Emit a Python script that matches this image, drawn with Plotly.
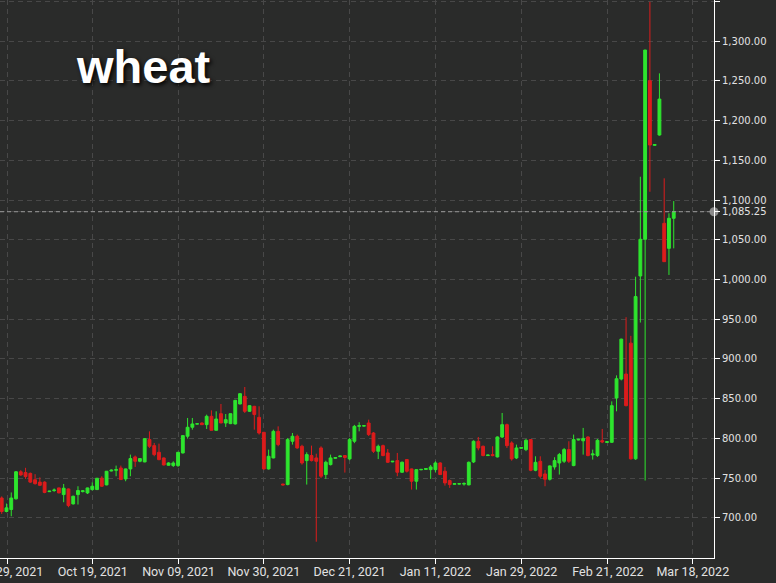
import plotly.graph_objects as go

# ---------------- data ----------------
tick_labels = ["Sep 29, 2021", "Oct 19, 2021", "Nov 09, 2021", "Nov 30, 2021",
               "Dec 21, 2021", "Jan 11, 2022", "Jan 29, 2022", "Feb 21, 2022",
               "Mar 18, 2022"]
# positions of the date ticks on the trading-session index axis
tick_index = [1.2, 19.1, 37.1, 55.0, 73.0, 91.0, 109.1, 127.2, 145.0]

opens = [725, 708, 710.5, 724, 758, 757, 756, 748, 745, 745,
         733, 734.4, 737.7, 729.3, 736.4, 717.6, 729.3, 733.1, 731.4, 735.6,
         735.6, 750, 741.5, 759, 759.9, 762.8, 749, 761.6, 776.7, 771.2,
         770.4, 798.5, 790.9, 782.5, 775.4, 766.2, 765.8, 765.8, 781.7, 802.7,
         814, 818, 819.4, 817.3, 827.8, 810.2, 831.1, 819.4, 818.6, 818.2,
         843.3, 852.9, 834.1, 840.4, 826.5, 807.7, 761.6, 775.4, 808.9, 742.5,
         741.9, 796.4, 802.7, 790.1, 772.1, 778.4, 775.4, 788, 754.5, 767,
         775, 777, 778.4, 774.2, 796.4, 815.2, 815.5, 819.4, 806.8, 783.8,
         790.9, 781.7, 770.5, 772.1, 757.4, 773.3, 761.6, 746.1, 760.5, 761,
         760.7, 760.7, 769.1, 758.7, 746.9, 742.3, 742.5, 742.5, 741.5, 770.4,
         796.4, 790.1, 778.4, 779.6, 776.7, 801.8, 817.3, 794.3, 775.4, 787.5,
         785.9, 798.5, 759.9, 771.2, 755.3, 748.6, 764.1, 769.1, 771.2, 785.9,
         765.8, 798, 797, 801.8, 779.2, 778.4, 797.2, 795, 795.1, 850.8,
         874.7, 881, 919.9, 774.3, 1004.4, 1050.6, 1250.1, 1168.8, 1181.8, 1070.7,
         1039.2, 1077]
highs = [727, 718, 732, 759, 760, 763, 757, 755, 751, 746,
         734, 737, 738, 742.7, 737, 728, 739.8, 735, 738, 744.8,
         750, 752.4, 759, 761, 765.8, 765.8, 762, 779.6, 778.4, 775,
         800, 808.9, 794.3, 793.4, 776, 770, 771.2, 783, 804, 825.7,
         825.7, 818.8, 820, 829.9, 835.3, 834.1, 843.3, 830.7, 831.5, 848.5,
         857, 864.7, 842, 841, 840.4, 808, 785.9, 811, 815.2, 743,
         800.5, 806.8, 804.8, 792, 782.5, 790.9, 780.8, 790.1, 772, 779.6,
         776, 778.2, 779, 800.5, 817, 820.3, 816.5, 823.6, 808, 792.2,
         792.2, 786.7, 771.5, 781.7, 771, 774, 762, 761, 761.5, 762.5,
         766.6, 771.2, 770, 764.1, 748.2, 743.5, 743.5, 744.8, 771, 797.6,
         801.8, 791, 779.5, 790.1, 802.5, 832, 818.6, 796.4, 792.2, 789,
         799.3, 799, 777.5, 777.5, 760.3, 766, 776.3, 781.7, 788, 796.4,
         804.8, 799.5, 813.2, 802.7, 785.9, 799.3, 811.9, 796.2, 846.6, 879.3,
         925.5, 952.5, 929.1, 1003.5, 1129.3, 1289, 1349.4, 1170.2, 1259.4, 1127.3,
         1083.3, 1098.7]
lows = [705, 707, 702, 723, 753, 749, 744, 742, 740, 731,
        732.5, 732.7, 731, 719.7, 713.4, 716.8, 716.8, 732, 730, 734.4,
        735, 739, 741, 758.5, 752.4, 748.2, 746.1, 752.4, 764.1, 770,
        770, 788, 777.5, 772.5, 766, 765.8, 764.1, 764.1, 781, 799.7,
        811, 817.6, 817, 811.9, 810.2, 810, 819.4, 814.4, 818, 817.5,
        843, 832, 833.5, 811, 804.8, 760.7, 760.7, 775, 790.1, 741,
        741, 792.2, 787, 767, 741.9, 771, 670, 750, 749, 766,
        774.5, 776.5, 757, 772.5, 794, 808.9, 815, 803, 781.7, 774,
        777.5, 769.1, 770, 752.4, 756.6, 757, 735.6, 735.6, 760, 760.5,
        749, 757.4, 754, 740.6, 737.7, 742, 742, 740.6, 741, 769,
        785, 777.5, 778, 777.5, 776, 800.5, 788, 772, 774, 787,
        784, 758.7, 758.7, 750, 739.8, 747, 760.7, 754.5, 769, 769,
        765, 797.5, 779.6, 777.5, 773.3, 776.7, 794, 794.5, 794.3, 834.1,
        873, 840.4, 773.4, 773, 945.8, 747, 1110.4, 1168.5, 1181, 1022,
        1005.7, 1039.2]
closes = [708, 712.6, 725, 758, 754, 752, 745, 743, 741, 732,
          733.6, 735, 731.4, 737.3, 715.5, 727.2, 734.4, 734, 737.7, 739.8,
          749.9, 739.8, 758.7, 760, 760.7, 748.2, 761.6, 774.6, 771.2, 774.6,
          799.7, 790.1, 779.6, 773.3, 766.6, 769.1, 769.1, 782.5, 803.5, 814,
          818.2, 818.4, 817.3, 827.8, 810.2, 824.4, 819.4, 823.6, 831.1, 847.9,
          856.3, 834.1, 841.2, 830, 806.8, 761.6, 777.5, 808.9, 792.2, 741.5,
          798.5, 802.7, 788, 769.1, 779.6, 772.1, 771.2, 752.4, 770, 775.4,
          775.8, 777.8, 776, 798.5, 815.2, 816, 816, 804.8, 783.8, 790.1,
          778.4, 770, 771.2, 757.4, 770, 758.7, 746.1, 760.7, 761, 762,
          764.1, 769.1, 754.5, 744, 741.9, 743, 743, 743.2, 769.9, 796.4,
          788, 778.4, 779, 778.4, 801.8, 817.3, 790.9, 774.2, 788, 788.5,
          797.6, 759.9, 769.9, 752.4, 748.6, 765.4, 772.1, 779.6, 785.9, 771.2,
          798.5, 798.9, 800, 778.4, 780.4, 797.6, 795.5, 795.8, 841.2, 875.1,
          924.9, 841.2, 774.3, 978.5, 1050.6, 1288.7, 1169.2, 1169.8, 1227, 1022.4,
          1077, 1085.25]

y_ticks = [700, 750, 800, 850, 900, 950, 1000, 1050, 1100, 1150, 1200, 1250, 1300]

# ---------------- styling ----------------
BG = "#2a2b2a"
GREEN = "#2ee52e"
RED = "#dc1c1c"
GRID = "#484848"
TXT = "#e2e2e2"

x_idx = list(range(len(opens)))
x_min, x_max = -0.36, 149.45
last = closes[-1]

fig = go.Figure()
fig.add_trace(go.Candlestick(
    x=x_idx, open=opens, high=highs, low=lows, close=closes,
    increasing=dict(line=dict(color=GREEN, width=1), fillcolor=GREEN),
    decreasing=dict(line=dict(color=RED, width=1), fillcolor=RED),
    whiskerwidth=0, hoverinfo="skip", showlegend=False,
))

# last price marker dot on the axis
fig.add_trace(go.Scatter(
    x=[x_max], y=[last], mode="markers",
    marker=dict(size=9, color="#8c8c8c"), cliponaxis=False,
    hoverinfo="skip", showlegend=False,
))

# last price dashed line
fig.add_shape(type="line", xref="paper", x0=0, x1=1, yref="y", y0=last, y1=last,
              line=dict(color="#9a9a9a", width=1, dash="4px,3px"), layer="above")

yvals = y_ticks + [1350, last]
ytext = [f"{v:,.2f}" for v in y_ticks] + ["", f"{last:,.2f}"]

fig.update_layout(
    width=776, height=583,
    paper_bgcolor=BG, plot_bgcolor=BG,
    margin=dict(l=0, r=62, t=0, b=25),
    boxgap=0.15,
    showlegend=False,
    xaxis=dict(
        range=[x_min, x_max], rangeslider=dict(visible=False),
        tickmode="array", tickvals=tick_index, ticktext=tick_labels,
        showgrid=True, gridcolor=GRID, griddash="5px,4px", gridwidth=1,
        showline=True, linecolor="#ffffff", linewidth=1,
        ticks="outside", ticklen=5, tickcolor="#ffffff",
        tickfont=dict(family="Liberation Sans Narrow, Roboto, sans-serif", size=12.5, color=TXT),
        ticklabeloverflow="allow", ticklabelstandoff=-3,
        zeroline=False, automargin=False, fixedrange=True,
    ),
    yaxis=dict(
        side="right", range=[649.5, 1351.7],
        tickmode="array", tickvals=yvals, ticktext=ytext,
        showgrid=True, gridcolor=GRID, griddash="5px,4px", gridwidth=1,
        showline=True, linecolor="#ffffff", linewidth=1,
        ticks="outside", ticklen=5, tickcolor="#ffffff",
        tickfont=dict(family="DejaVu Sans", size=10, color=TXT),
        zeroline=False, automargin=False, fixedrange=True,
    ),
    annotations=[dict(
        text="<b>wheat</b>", xref="paper", yref="paper",
        x=74 / 714, y=1 - 67 / 558, xanchor="left", yanchor="middle",
        showarrow=False,
        font=dict(family="Liberation Sans, Arial, sans-serif", size=47, color="#ffffff",
                  shadow="2px 2px 4px #000000"),
    )],
)

fig.write_html("out.html", config={"displayModeBar": False},
               post_script="document.body.style.margin='0';document.body.style.background='%s';" % BG)
